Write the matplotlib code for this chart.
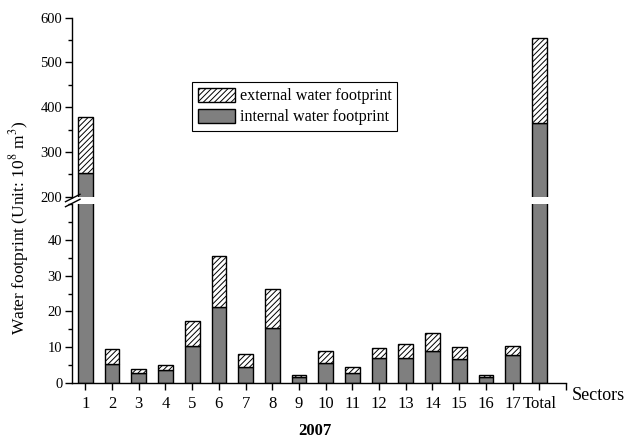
import numpy as np
import matplotlib
matplotlib.use('Agg')
import matplotlib.pyplot as plt
from matplotlib.lines import Line2D
from matplotlib.ticker import MultipleLocator

plt.rcParams['font.family'] = 'Liberation Serif'
plt.rcParams['mathtext.fontset'] = 'stix'
plt.rcParams['font.size'] = 10.5
plt.rcParams['hatch.linewidth'] = 0.7

# data (unit: 10^8 m^3)
sectors = ['1', '2', '3', '4', '5', '6', '7', '8', '9', '10',
           '11', '12', '13', '14', '15', '16', '17', 'Total']
internal = [252, 5.2, 2.8, 3.5, 10.4, 21.2, 4.6, 15.5, 1.6, 5.6,
            2.7, 7.0, 7.0, 8.9, 6.6, 1.7, 7.7, 364]
total = [377, 9.4, 4.0, 4.9, 17.2, 35.6, 8.1, 26.2, 2.3, 9.0,
         4.4, 9.7, 10.8, 14.0, 10.0, 2.1, 10.2, 555]
external = [t - i for t, i in zip(total, internal)]

W, H = 627, 441
fig = plt.figure(figsize=(W / 100, H / 100), dpi=100)

left, right = 72 / W, 566 / W
ax_low = fig.add_axes([left, 1 - 383 / H, right - left, (383 - 204) / H])
ax_up = fig.add_axes([left, 1 - 196.7 / H, right - left, (196.7 - 17.7) / H])

x = np.arange(1, len(sectors) + 1)
gray = '#7f7f7f'
for ax in (ax_low, ax_up):
    ax.bar(x, internal, width=0.55, color=gray, edgecolor='black', linewidth=1,
           label='internal water footprint')
    ax.bar(x, external, bottom=internal, width=0.55, color='white', edgecolor='black',
           hatch='//////', linewidth=1, label='external water footprint')
    ax.set_xlim(0.5, 19)
    ax.spines['top'].set_visible(False)
    ax.spines['right'].set_visible(False)
    ax.tick_params(direction='out', which='major', length=5, width=1, pad=2)
    ax.tick_params(direction='out', which='minor', length=3, width=1)
    ax.spines['left'].set_linewidth(1)
    ax.spines['bottom'].set_linewidth(1)

ax_low.set_ylim(0, 50)
ax_low.set_yticks([0, 10, 20, 30, 40])
ax_low.yaxis.set_minor_locator(MultipleLocator(5))
ax_low.set_xticks(list(x) + [19])
ax_low.set_xticklabels(sectors + [''], fontsize=12)
ax_low.tick_params(axis='x', length=5, pad=4)

ax_up.set_ylim(200, 600)
ax_up.set_yticks([200, 300, 400, 500, 600])
ax_up.yaxis.set_minor_locator(MultipleLocator(50))
ax_up.spines['bottom'].set_visible(False)
ax_up.set_xticks([])

# break marks on the y axis
for y0 in (201.7, 206.7):
    fig.add_artist(Line2D([65.5 / W, 80 / W], [1 - y0 / H, 1 - (y0 - 7.4) / H],
                          color='black', lw=1))

handles, labels = ax_up.get_legend_handles_labels()
leg = ax_up.legend(handles[::-1], labels[::-1], loc='upper left',
                   bbox_to_anchor=(192 / W, 1 - 82 / H), bbox_transform=fig.transFigure,
                   borderaxespad=0, fancybox=False, edgecolor='black', framealpha=1,
                   handlelength=2.3, handleheight=0.95, handletextpad=0.3,
                   borderpad=0.35, labelspacing=0.3, fontsize=11.6)
leg.get_frame().set_linewidth(0.8)

fig.text(19 / W, 1 - 228 / H, 'Water footprint (Unit: 10$^8$ m$^3$)',
         rotation=90, ha='center', va='center', fontsize=12.5)
fig.text(598 / W, 1 - 396 / H, 'Sectors', ha='center', va='center', fontsize=13)
fig.text(315 / W, 1 - 431 / H, '2007', ha='center', va='center',
         fontsize=12, fontweight='bold')

fig.savefig('out.png', dpi=100)
